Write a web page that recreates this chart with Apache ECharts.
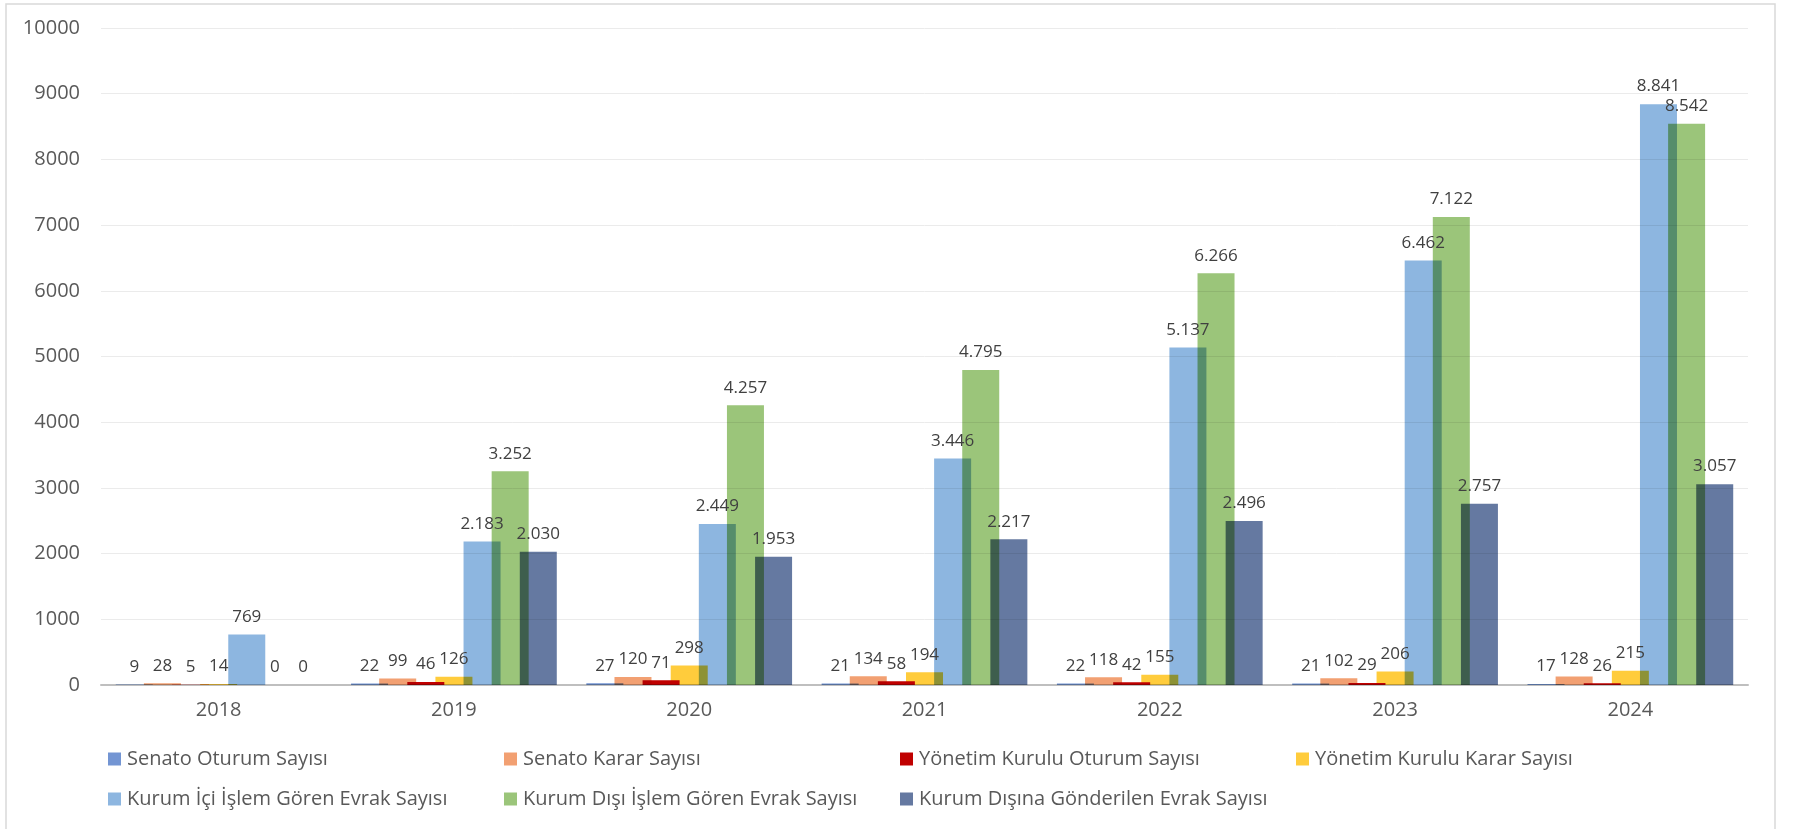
<!DOCTYPE html>
<html>
<head>
<meta charset="utf-8">
<script src="https://cdn.jsdelivr.net/npm/echarts@6/dist/echarts.min.js"></script>
<style>
html,body{margin:0;padding:0;background:#fff;}
#chart{width:1796px;height:829px;}
</style>
</head>
<body>
<div id="chart"></div>
<script>
const years = ['2018','2019','2020','2021','2022','2023','2024'];
const seriesNames = [
  'Senato Oturum Sayısı',
  'Senato Karar Sayısı',
  'Yönetim Kurulu Oturum Sayısı',
  'Yönetim Kurulu Karar Sayısı',
  'Kurum İçi İşlem Gören Evrak Sayısı',
  'Kurum Dışı İşlem Gören Evrak Sayısı',
  'Kurum Dışına Gönderilen Evrak Sayısı'
];
const senatoOturum   = [9, 22, 27, 21, 22, 21, 17];
const senatoKarar    = [28, 99, 120, 134, 118, 102, 128];
const ykOturum       = [5, 46, 71, 58, 42, 29, 26];
const ykKarar        = [14, 126, 298, 194, 155, 206, 215];
const kurumIci       = [769, 2183, 2449, 3446, 5137, 6462, 8841];
const kurumDisi      = [0, 3252, 4257, 4795, 6266, 7122, 8542];
const kurumDisina    = [0, 2030, 1953, 2217, 2496, 2757, 3057];
const yTicks = [0, 1000, 2000, 3000, 4000, 5000, 6000, 7000, 8000, 9000, 10000];

const colors = ['#7395D3', '#F2A072', '#C00000', '#FFCC3C', '#8DB6E0', '#9BC57A', '#6579A1'];
const allData = [senatoOturum, senatoKarar, ykOturum, ykKarar, kurumIci, kurumDisi, kurumDisina];

function fmt(v){ return String(v).replace(/\B(?=(\d{3})+(?!\d))/g, '.'); }

const FONT = 'Open Sans';
const chart = echarts.init(document.getElementById('chart'));

const series = seriesNames.map((name, i) => ({
  name: name,
  type: 'bar',
  data: allData[i],
  barWidth: 37,
  barGap: '-24%',
  blendMode: 'multiply',
  itemStyle: { color: colors[i] },
  label: {
    show: true,
    position: 'top',
    distance: 9,
    color: '#404040',
    fontFamily: FONT,
    fontSize: 17,
    formatter: p => fmt(p.value)
  }
}));

// legend layout: 4 columns, 2 rows
const legendCols = [108, 504, 900, 1296];
const legendRows = [746, 786];
const legends = seriesNames.map((name, i) => ({
  data: [name],
  left: legendCols[i % 4],
  top: legendRows[Math.floor(i / 4)],
  padding: 0,
  icon: 'rect',
  itemWidth: 13,
  itemHeight: 13,
  itemGap: 0,
  textStyle: { color: '#595959', fontFamily: FONT, fontSize: 20, lineHeight: 26, padding: [0, 0, 0, 1] }
}));

chart.setOption({
  backgroundColor: '#ffffff',
  animation: false,
  color: colors,
  graphic: [{
    type: 'rect',
    shape: { x: 6, y: 4, width: 1769, height: 830 },
    style: { fill: 'none', stroke: '#D9D9D9', lineWidth: 1.5 },
    silent: true
  }],
  grid: { left: 101, right: 48, top: 28, bottom: 144 },
  legend: legends,
  xAxis: {
    type: 'category',
    data: years,
    axisLine: { lineStyle: { color: '#BFBFBF', width: 2 } },
    axisTick: { show: false },
    axisLabel: { color: '#595959', fontFamily: FONT, fontSize: 20, margin: 15 }
  },
  yAxis: {
    type: 'value',
    min: yTicks[0],
    max: yTicks[yTicks.length - 1],
    interval: 1000,
    axisLine: { show: false },
    axisTick: { show: false },
    splitLine: { lineStyle: { color: '#EBEBEB', width: 1 } },
    axisLabel: { color: '#595959', fontFamily: FONT, fontSize: 20, margin: 21, formatter: v => String(v) }
  },
  series: series
});
</script>
</body>
</html>
